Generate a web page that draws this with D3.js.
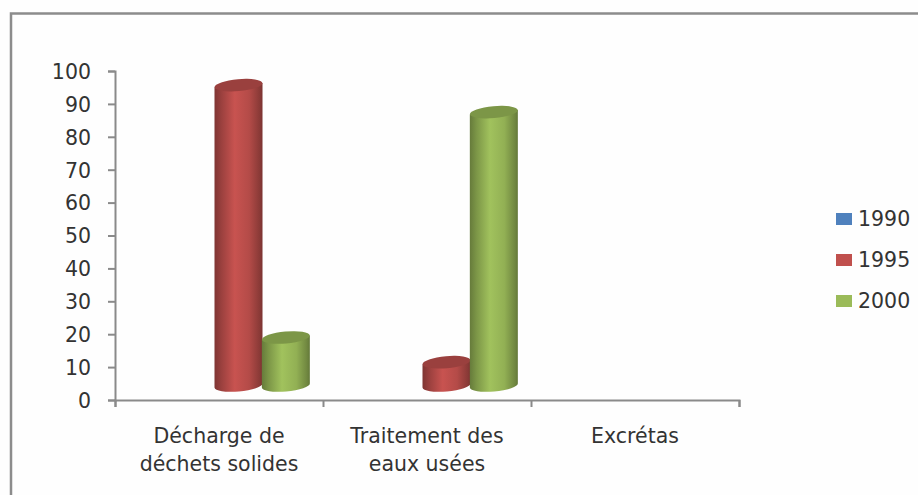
<!DOCTYPE html>
<html>
<head>
<meta charset="utf-8">
<script src="https://cdn.jsdelivr.net/npm/d3@7/dist/d3.min.js"></script>
<style>
html, body { margin: 0; padding: 0; background: #fff; }
svg { display: block; }
text { font-family: "DejaVu Sans", sans-serif; fill: #333; }
</style>
</head>
<body>
<script>
const categories = [["Décharge de", "déchets solides"], ["Traitement des", "eaux usées"], ["Excrétas"]];
const seriesNames = ["1990", "1995", "2000"];
const values1990 = [null, null, null];
const values1995 = [95.7, 11.5, null];
const values2000 = [19, 87.5, null];
const yTicks = [0, 10, 20, 30, 40, 50, 60, 70, 80, 90, 100];
const seriesColors = ["#4f81bd", "#c0504d", "#9bbb59"];

const W = 918, H = 495;
const svg = d3.select("body").append("svg").attr("width", W).attr("height", H);
const defs = svg.append("defs");
svg.append("rect").attr("width", W).attr("height", H).attr("fill", "#fefefe");

// Outer chart frame, open on the right and at the bottom
svg.append("path").attr("d", `M11,${H}V13.5H${W}`).attr("fill", "none")
  .attr("stroke", "#8c8c8c").attr("stroke-width", 2.5);

const x0 = d3.scaleBand().domain(d3.range(categories.length)).range([115, 739]).padding(0);
const xSeries = d3.scaleBand().domain(seriesNames).range([-71, 71]);
const y = d3.scaleLinear().domain([0, 100]).range([400, 71]);

// Axes
const axisColor = "#8a8a8a";
const gy = svg.append("g").attr("transform", "translate(115,0)")
  .call(d3.axisLeft(y).tickValues(yTicks).tickSize(7).tickPadding(17).tickFormat(d3.format("d")));
gy.selectAll("text").style("font-size", "20.5px").attr("dy", "0.36em");
const gx = svg.append("g").attr("transform", "translate(0,400)")
  .call(d3.axisBottom(d3.scalePoint().domain(d3.range(categories.length + 1)).range([115, 739]))
    .tickSize(7).tickFormat(""));
svg.selectAll(".domain").attr("stroke", axisColor).attr("stroke-width", 2);
svg.selectAll(".tick line").attr("stroke", axisColor).attr("stroke-width", 2);

// Category labels, one text line per row
categories.forEach((lines, i) => {
  const cx = x0(i) + x0.bandwidth() / 2;
  lines.forEach((line, k) => {
    svg.append("text").attr("x", cx).attr("y", 443 + k * 28)
      .attr("text-anchor", "middle").style("font-size", "20.5px").text(line);
  });
});

// Side shading of each cylinder
seriesColors.forEach((c, i) => {
  const base = d3.color(c);
  const g = defs.append("linearGradient").attr("id", "cyl" + i);
  [[0, 0.66], [0.14, 0.8], [0.42, 1.04], [0.72, 0.94], [0.94, 0.72], [1, 0.64]].forEach(([o, k]) => {
    g.append("stop").attr("offset", o).attr("stop-color",
      d3.rgb(base.r * k, base.g * k, base.b * k).formatHex());
  });
});

// Each cylinder stands on a tilted ellipse lifted above the axis line
const baseCentre = 385.5, rx = 24, ry = 6, tilt = -5;
const depthShift = 19.5;
const allSeries = [values1990, values1995, values2000];

function drawCylinder(cx, topY, s) {
  const dy = rx * Math.sin(tilt * Math.PI / 180);
  const g = svg.append("g");
  g.append("path")
    .attr("d", `M${cx - rx},${topY - dy}L${cx - rx},${baseCentre - dy}` +
      `A${rx},${ry} ${tilt} 0 0 ${cx + rx},${baseCentre + dy}` +
      `L${cx + rx},${topY + dy}Z`)
    .attr("fill", `url(#cyl${s})`);
  const col = d3.color(seriesColors[s]);
  g.append("ellipse").attr("rx", rx).attr("ry", ry)
    .attr("transform", `translate(${cx},${topY}) rotate(${tilt})`)
    .attr("fill", d3.rgb(col.r * 0.8, col.g * 0.8, col.b * 0.8).formatHex());
}

// Nearer series last so its cylinder overlaps the one on its left
allSeries.forEach((vals, s) => {
  vals.forEach((v, i) => {
    if (v === null) return;
    const cx = x0(i) + x0.bandwidth() / 2 + depthShift + xSeries(seriesNames[s]) + xSeries.bandwidth() / 2;
    drawCylinder(cx, y(v), s);
  });
});

// Legend
const legendY = d3.scalePoint().domain(seriesNames).range([219, 301]);
seriesNames.forEach((name, s) => {
  svg.append("rect").attr("x", 836).attr("y", legendY(name) - 6).attr("width", 16).attr("height", 12)
    .attr("fill", seriesColors[s]);
  svg.append("text").attr("x", 858).attr("y", legendY(name)).attr("dy", "0.36em")
    .style("font-size", "20.5px").text(name);
});
</script>
</body>
</html>
